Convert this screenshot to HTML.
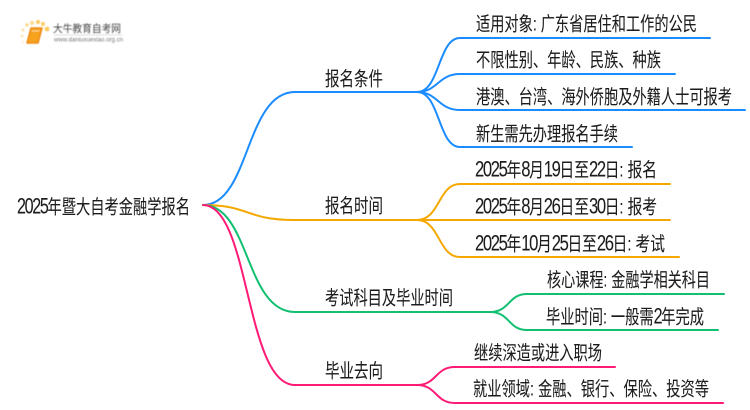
<!DOCTYPE html>
<html><head><meta charset="utf-8"><style>
html,body{margin:0;padding:0;background:#fff}
svg{display:block}
text{font-family:"Liberation Sans","Noto Sans CJK SC",sans-serif;font-size:19.5px;fill:#1c1c1c;stroke:#1c1c1c;stroke-width:.08px}
tspan{font-size:22px;letter-spacing:-1.8px}
path{fill:none;stroke-width:2;stroke-linecap:round}
</style></head><body>
<svg width="750" height="410" viewBox="0 0 750 410" xmlns="http://www.w3.org/2000/svg">
<defs><filter id="b" x="-10%" y="-10%" width="120%" height="120%"><feGaussianBlur stdDeviation="0.45"/></filter></defs>
<g stroke="#1a8cff">
<path d="M203 205C250 205 245 92 295 92L417 92"/>
<path d="M417 92C440 92 438 38 460 38L710 38"/>
<path d="M417 92C438 92 438 74 460 74L675 74"/>
<path d="M417 92C438 92 438 110 460 110L745 110"/>
<path d="M417 92C440 92 438 147 460 147L632 147"/>
</g>
<g stroke="#f5a800">
<path d="M203 205C250 205 245 220 295 220L417 220"/>
<path d="M417 220C440 220 438 184 460 184L670 184"/>
<path d="M417 220L670 220"/>
<path d="M417 220C440 220 438 257 460 257L679 257"/>
</g>
<g stroke="#10c070">
<path d="M203 205C250 205 245 312 295 312L490 312"/>
<path d="M490 312C510 312 508 294 527 294L724 294"/>
<path d="M490 312C510 312 508 330 527 330L718 330"/>
</g>
<g stroke="#ff1a75">
<path d="M203 205C250 205 245 385 295 385L417 385"/>
<path d="M417 385C437 385 435 367 455 367L615 367"/>
<path d="M417 385C437 385 435 403 455 403L723 403"/>
</g>
<text x="17" y="213.5" textLength="173" lengthAdjust="spacingAndGlyphs"><tspan>2025</tspan>年暨大自考金融学报名</text>
<text x="325" y="85.5" textLength="58" lengthAdjust="spacingAndGlyphs">报名条件</text>
<text x="325" y="212.5" textLength="58" lengthAdjust="spacingAndGlyphs">报名时间</text>
<text x="325" y="304.5" textLength="128" lengthAdjust="spacingAndGlyphs">考试科目及毕业时间</text>
<text x="325" y="377.5" textLength="58" lengthAdjust="spacingAndGlyphs">毕业去向</text>
<text x="476" y="30.5" textLength="221" lengthAdjust="spacingAndGlyphs">适用对象: 广东省居住和工作的公民</text>
<text x="476" y="66.5" textLength="185" lengthAdjust="spacingAndGlyphs">不限性别、年龄、民族、种族</text>
<text x="476" y="103.5" textLength="256" lengthAdjust="spacingAndGlyphs">港澳、台湾、海外侨胞及外籍人士可报考</text>
<text x="476" y="140.5" textLength="142" lengthAdjust="spacingAndGlyphs">新生需先办理报名手续</text>
<text x="475" y="176.5" textLength="182" lengthAdjust="spacingAndGlyphs"><tspan>2025</tspan>年<tspan>8</tspan>月<tspan>19</tspan>日至<tspan>22</tspan>日: 报名</text>
<text x="475" y="213.5" textLength="182" lengthAdjust="spacingAndGlyphs"><tspan>2025</tspan>年<tspan>8</tspan>月<tspan>26</tspan>日至<tspan>30</tspan>日: 报考</text>
<text x="475" y="250.5" textLength="190" lengthAdjust="spacingAndGlyphs"><tspan>2025</tspan>年<tspan>10</tspan>月<tspan>25</tspan>日至<tspan>26</tspan>日: 考试</text>
<text x="547" y="286.5" textLength="163" lengthAdjust="spacingAndGlyphs">核心课程: 金融学相关科目</text>
<text x="546" y="323.5" textLength="158" lengthAdjust="spacingAndGlyphs">毕业时间: 一般需<tspan>2</tspan>年完成</text>
<text x="474" y="359.5" textLength="128" lengthAdjust="spacingAndGlyphs">继续深造或进入职场</text>
<text x="473" y="395.5" textLength="236" lengthAdjust="spacingAndGlyphs">就业领域: 金融、银行、保险、投资等</text>
<g filter="url(#b)">
<circle cx="47" cy="29" r="2.4" fill="#fbcb62"/>
<circle cx="43" cy="24" r="2" fill="#fbcb62"/>
<circle cx="38" cy="22" r="2.1" fill="#fbcb62"/>
<circle cx="32" cy="23" r="2" fill="#fcd98c"/>
<circle cx="27" cy="25" r="1.8" fill="#fcd98c"/>
<circle cx="23" cy="30" r="1.5" fill="#fde3a8"/>
<circle cx="22" cy="36" r="1.4" fill="#fde3a8"/>
<circle cx="23" cy="42" r="1.2" fill="#feeecb"/>
<path d="M31 28L42 28L38 43L27 43Z" style="fill:#f7a21b;stroke:#ee8a12;stroke-width:1.5;stroke-linejoin:round"/>
<path d="M32 31L39 31" style="stroke:#fddc95;stroke-width:1"/>
<text x="53" y="32" textLength="68" lengthAdjust="spacingAndGlyphs" style="font-size:10.5px;fill:#444;stroke:none">大牛教育自考网</text>
<path d="M54 35L122 35" style="stroke:#d5d5d5;stroke-width:.8"/>
<text x="54" y="41.5" textLength="69" lengthAdjust="spacingAndGlyphs" style="font-size:6.5px;fill:#777;stroke:none">www.daniuxuexiao.org.cn</text>
</g>
</svg>
</body></html>
